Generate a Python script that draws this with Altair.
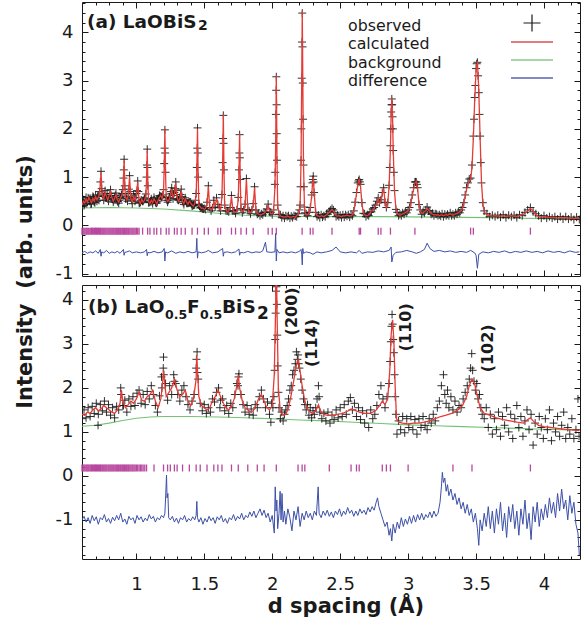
import altair as alt
import pandas as pd

# ---------------- data: panel (a) LaOBiS2 ----------------
A_D = [
    0.60, 0.61, 0.62, 0.63, 0.64, 0.65, 0.66, 0.67, 0.68, 0.69, 0.70, 0.71, 0.72, 0.73,
    0.735, 0.74, 0.745,
    0.75, 0.76, 0.77, 0.78, 0.79, 0.80, 0.81, 0.82, 0.83, 0.84, 0.85, 0.86, 0.87, 0.88, 0.89, 0.90,
    0.905, 0.91, 0.915,
    0.92, 0.93, 0.94, 0.95, 0.96, 0.97, 0.98, 0.99, 1.00, 1.01, 1.02, 1.03, 1.04, 1.05, 1.06, 1.07,
    1.075, 1.08, 1.085,
    1.09, 1.10, 1.11, 1.12, 1.13, 1.14, 1.15, 1.16, 1.17, 1.18, 1.19, 1.20,
    1.205, 1.21, 1.215,
    1.22, 1.23, 1.24, 1.25, 1.26, 1.27, 1.28, 1.29, 1.30, 1.31, 1.32, 1.33, 1.34, 1.35, 1.36, 1.37,
    1.38, 1.39, 1.40, 1.41, 1.42, 1.43, 1.44,
    1.445, 1.45, 1.455,
    1.46, 1.47, 1.48, 1.49, 1.50, 1.51, 1.52, 1.53, 1.54, 1.55, 1.56, 1.57, 1.58, 1.59, 1.60, 1.61,
    1.62, 1.63,
    1.635, 1.64, 1.645,
    1.65, 1.66, 1.67, 1.68, 1.69, 1.70, 1.71, 1.72, 1.73, 1.74, 1.75,
    1.755, 1.76, 1.765,
    1.77, 1.78, 1.79, 1.80, 1.81, 1.82, 1.83, 1.84, 1.85, 1.86, 1.87, 1.88, 1.89, 1.90, 1.91, 1.92,
    1.93, 1.94, 1.95, 1.96, 1.97, 1.98, 1.99, 2.00, 2.01, 2.02,
    2.025, 2.03, 2.035,
    2.04, 2.05, 2.06, 2.07, 2.08, 2.09, 2.10, 2.11, 2.12, 2.13, 2.14, 2.15, 2.16, 2.17, 2.18, 2.19, 2.20,
    2.205, 2.212, 2.217, 2.221, 2.225, 2.23, 2.237,
    2.24, 2.25, 2.26, 2.27, 2.28, 2.29,
    2.296, 2.302, 2.308,
    2.32, 2.33, 2.34, 2.35, 2.36, 2.37, 2.38, 2.39, 2.40, 2.41, 2.42, 2.43, 2.44, 2.45, 2.46, 2.47,
    2.48, 2.49, 2.50, 2.51, 2.52, 2.53, 2.54, 2.55, 2.56, 2.57, 2.58, 2.59, 2.60, 2.61, 2.62,
    2.63, 2.64, 2.65, 2.66, 2.67, 2.68, 2.69, 2.70, 2.71, 2.72, 2.73, 2.74, 2.75, 2.76, 2.77, 2.78,
    2.79, 2.80, 2.81, 2.82, 2.83, 2.84, 2.85,
    2.86, 2.87, 2.875, 2.88, 2.885, 2.89, 2.90, 2.91,
    2.92, 2.93, 2.94, 2.95, 2.96, 2.97, 2.98, 2.99, 3.00, 3.01, 3.02, 3.03, 3.04, 3.05, 3.06, 3.07,
    3.08, 3.09, 3.10, 3.11, 3.12, 3.13, 3.14, 3.15, 3.16, 3.17, 3.18, 3.19, 3.20,
    3.21, 3.22, 3.23, 3.24, 3.25, 3.26, 3.27, 3.28, 3.29, 3.30, 3.31, 3.32, 3.33, 3.34, 3.35, 3.36,
    3.37, 3.38, 3.39, 3.40, 3.41, 3.42, 3.43, 3.44, 3.45, 3.46, 3.47, 3.48, 3.49, 3.50, 3.51, 3.52,
    3.53, 3.54, 3.55, 3.56,
    3.58, 3.60, 3.62, 3.64, 3.66, 3.68, 3.70, 3.72, 3.74, 3.76, 3.78, 3.80, 3.82, 3.84, 3.86, 3.88,
    3.90, 3.92, 3.94, 3.96, 3.98, 4.00, 4.02, 4.04, 4.06, 4.08, 4.10, 4.12, 4.14, 4.16, 4.18, 4.20,
    4.22, 4.24, 4.26,
]
A_CALC = [
    0.42, 0.50, 0.46, 0.55, 0.48, 0.58, 0.52, 0.47, 0.56, 0.50, 0.60, 0.53, 0.58, 0.66,
    0.85, 1.10, 0.80,
    0.62, 0.55, 0.68, 0.60, 0.52, 0.63, 0.70, 0.58, 0.50, 0.56, 0.64, 0.53, 0.48, 0.55, 0.60, 0.70,
    0.95, 1.35, 0.85,
    0.58, 0.52, 0.62, 1.00, 0.55, 0.48, 0.60, 0.52, 0.62, 0.90, 0.50, 0.45, 0.55, 0.48, 0.52, 0.62,
    0.95, 1.55, 0.85,
    0.50, 0.45, 0.52, 0.47, 0.55, 0.50, 0.44, 0.52, 0.58, 0.62, 0.55, 0.70,
    1.20, 2.00, 1.05,
    0.55, 0.50, 0.52, 0.62, 0.75, 0.58, 0.65, 0.88, 0.58, 0.50, 0.55, 0.72, 0.50, 0.45, 0.55, 0.48,
    0.44, 0.50, 0.46, 0.42, 0.40, 0.45, 0.62,
    1.15, 2.00, 1.05,
    0.42, 0.38, 0.35, 0.36, 0.33, 0.35, 0.45, 0.80, 0.35, 0.32, 0.34, 0.50, 0.40, 0.55, 0.45, 0.35,
    0.32, 0.60,
    1.25, 2.30, 1.10,
    0.40, 0.32, 0.28, 0.30, 0.35, 0.60, 0.32, 0.28, 0.27, 0.30, 0.55,
    1.10, 1.90, 0.90,
    0.33, 0.28, 0.30, 0.42, 0.95, 0.35, 0.28, 0.26, 0.30, 0.42, 0.78, 0.30, 0.25, 0.23, 0.22, 0.22,
    0.24, 0.25, 0.28, 0.32, 0.42, 0.30, 0.25, 0.24, 0.30, 0.80,
    1.60, 3.10, 1.40,
    0.40, 0.25, 0.20, 0.18, 0.18, 0.17, 0.18, 0.20, 0.18, 0.17, 0.17, 0.18, 0.18, 0.17, 0.20, 0.22, 0.30,
    0.40, 1.30, 3.00, 4.45, 3.00, 1.30, 0.40,
    0.28, 0.22, 0.22, 0.25, 0.35, 0.60,
    0.85, 1.00, 0.70,
    0.25, 0.20, 0.19, 0.18, 0.20, 0.19, 0.18, 0.20, 0.22, 0.25, 0.27, 0.30, 0.33, 0.30, 0.25, 0.20,
    0.19, 0.20, 0.19, 0.18, 0.20, 0.19, 0.20, 0.21, 0.20, 0.19, 0.20, 0.22, 0.28, 0.45, 0.65,
    0.85, 0.97, 0.80, 0.45, 0.27, 0.22, 0.20, 0.20, 0.22, 0.25, 0.30, 0.32, 0.35, 0.40, 0.48, 0.55,
    0.45, 0.50, 0.65, 0.76, 0.50, 0.35, 0.45,
    0.80, 1.60, 2.30, 2.65, 2.30, 1.60, 0.70, 0.35,
    0.25, 0.22, 0.21, 0.22, 0.24, 0.25, 0.27, 0.28, 0.30, 0.35, 0.45, 0.60, 0.75, 0.88, 0.92, 0.75,
    0.45, 0.30, 0.25, 0.26, 0.28, 0.30, 0.35, 0.32, 0.28, 0.25, 0.23, 0.22, 0.22,
    0.21, 0.22, 0.20, 0.21, 0.22, 0.20, 0.21, 0.22, 0.21, 0.22, 0.24, 0.22, 0.21, 0.22, 0.24, 0.25,
    0.26, 0.28, 0.30, 0.35, 0.45, 0.60, 0.75, 0.85, 0.92, 0.95, 1.20, 1.80, 2.60, 3.20, 3.40, 2.80,
    1.80, 0.90, 0.45, 0.28,
    0.22, 0.20, 0.19, 0.20, 0.19, 0.19, 0.20, 0.18, 0.19, 0.20, 0.19, 0.18, 0.20, 0.22, 0.25, 0.30,
    0.35, 0.30, 0.22, 0.18, 0.17, 0.18, 0.17, 0.16, 0.17, 0.16, 0.15, 0.16, 0.15, 0.16, 0.15, 0.15,
    0.14, 0.15, 0.14,
]
A_OBS = [
    0.40, 0.53, 0.44, 0.58, 0.50, 0.55, 0.56, 0.45, 0.60, 0.48, 0.63, 0.50, 0.61, 0.70,
    0.90, 1.12, 0.76,
    0.65, 0.52, 0.72, 0.57, 0.55, 0.60, 0.74, 0.55, 0.48, 0.59, 0.67, 0.50, 0.46, 0.58, 0.63, 0.74,
    0.98, 1.37, 0.82,
    0.55, 0.55, 0.66, 1.03, 0.58, 0.45, 0.63, 0.50, 0.66, 0.92, 0.47, 0.48, 0.52, 0.50, 0.55, 0.65,
    1.00, 1.58, 0.82,
    0.47, 0.48, 0.55, 0.45, 0.58, 0.48, 0.46, 0.55, 0.62, 0.60, 0.58, 0.74,
    1.28, 1.98, 1.10,
    0.57, 0.48, 0.55, 0.65, 0.78, 0.55, 0.68, 0.90, 0.55, 0.52, 0.58, 0.75, 0.52, 0.43, 0.57, 0.46,
    0.46, 0.48, 0.48, 0.40, 0.42, 0.43, 0.66,
    1.20, 2.02, 1.00,
    0.44, 0.36, 0.37, 0.34, 0.35, 0.33, 0.48, 0.82, 0.37, 0.30, 0.36, 0.52, 0.38, 0.57, 0.43, 0.37,
    0.30, 0.64,
    1.30, 2.28, 1.15,
    0.42, 0.30, 0.30, 0.28, 0.37, 0.62, 0.30, 0.30, 0.25, 0.32, 0.58,
    1.15, 1.88, 0.95,
    0.35, 0.26, 0.32, 0.44, 0.97, 0.33, 0.30, 0.24, 0.32, 0.45, 0.80, 0.32, 0.23, 0.25, 0.20, 0.24,
    0.22, 0.27, 0.26, 0.34, 0.44, 0.28, 0.27, 0.22, 0.32, 0.85,
    1.70, 3.08, 1.35,
    0.42, 0.23, 0.22, 0.16, 0.20, 0.15, 0.20, 0.18, 0.20, 0.15, 0.19, 0.16, 0.20, 0.19, 0.18, 0.24, 0.32,
    0.42, 1.35, 3.05, 4.40, 2.95, 1.25, 0.38,
    0.26, 0.24, 0.20, 0.27, 0.37, 0.63,
    0.88, 1.02, 0.68,
    0.27, 0.18, 0.21, 0.16, 0.22, 0.17, 0.20, 0.18, 0.24, 0.23, 0.29, 0.32, 0.35, 0.32, 0.27, 0.18,
    0.21, 0.18, 0.21, 0.16, 0.22, 0.17, 0.22, 0.19, 0.22, 0.17, 0.22, 0.20, 0.30, 0.48, 0.68,
    0.88, 0.95, 0.85, 0.47, 0.25, 0.24, 0.18, 0.22, 0.20, 0.27, 0.28, 0.34, 0.37, 0.42, 0.50, 0.57,
    0.47, 0.53, 0.68, 0.78, 0.48, 0.37, 0.47,
    0.83, 1.65, 2.35, 2.62, 2.25, 1.55, 0.72, 0.33,
    0.27, 0.20, 0.23, 0.20, 0.26, 0.23, 0.29, 0.26, 0.32, 0.37, 0.47, 0.63, 0.78, 0.90, 0.90, 0.78,
    0.43, 0.32, 0.23, 0.28, 0.26, 0.32, 0.38, 0.30, 0.30, 0.23, 0.25, 0.20, 0.24,
    0.23, 0.20, 0.22, 0.19, 0.24, 0.18, 0.23, 0.20, 0.23, 0.20, 0.26, 0.20, 0.23, 0.20, 0.26, 0.23,
    0.28, 0.26, 0.32, 0.37, 0.47, 0.63, 0.78, 0.88, 0.96, 0.98, 1.25, 1.85, 2.65, 3.25, 3.38, 2.75,
    1.85, 0.88, 0.47, 0.30,
    0.24, 0.18, 0.21, 0.18, 0.21, 0.17, 0.22, 0.16, 0.21, 0.18, 0.21, 0.16, 0.22, 0.20, 0.27, 0.32,
    0.37, 0.28, 0.24, 0.20, 0.15, 0.20, 0.15, 0.18, 0.15, 0.18, 0.13, 0.18, 0.13, 0.18, 0.13, 0.17,
    0.12, 0.17, 0.12,
]
# additional observed points: dense low-d region and points along the peak flanks
A_OBS_X_D = [
    0.605, 0.615, 0.625, 0.635, 0.645, 0.655, 0.665, 0.675, 0.685, 0.695,
    0.705, 0.715, 0.725, 0.755, 0.765, 0.775, 0.785, 0.795, 0.805, 0.815,
    0.825, 0.835, 0.845, 0.855, 0.865, 0.875, 0.885, 0.895, 0.925, 0.935,
    0.945, 0.955, 0.965, 0.975, 0.985, 0.995, 1.005, 1.015, 1.025, 1.035,
    1.045, 1.055, 1.065, 1.095, 1.105, 1.115, 1.125, 1.135, 1.145, 1.155,
    1.165, 1.175, 1.185, 1.195, 1.225, 1.235, 1.245, 1.255, 1.265, 1.275,
    1.285, 1.295, 1.305, 1.315, 1.325, 1.335, 1.345, 1.355, 1.365, 1.375,
    1.385, 1.395, 1.405, 1.415, 1.425, 1.435, 1.465, 1.475, 1.485, 1.495,
    2.022, 2.027, 2.029, 2.032, 2.033, 2.209, 2.214, 2.219, 2.223, 2.227,
    2.233, 2.865, 2.872, 2.878, 2.883, 2.888, 2.895, 3.485, 3.495, 3.505,
    3.515, 3.525, 3.535, 1.638, 1.642, 1.208, 1.212, 1.448, 1.452, 1.758,
    1.762, 1.078, 1.082, 0.908, 2.635, 2.645, 3.055, 3.065, 2.299, 2.305,
]
A_OBS_X = [
    0.48, 0.41, 0.52, 0.45, 0.57, 0.50, 0.44, 0.53, 0.58, 0.47,
    0.56, 0.60, 0.52, 0.60, 0.62, 0.58, 0.66, 0.50, 0.66, 0.62,
    0.54, 0.52, 0.62, 0.58, 0.49, 0.52, 0.57, 0.66, 0.60, 0.50,
    0.75, 0.70, 0.52, 0.55, 0.57, 0.58, 0.72, 0.70, 0.46, 0.52,
    0.50, 0.53, 0.57, 0.48, 0.50, 0.49, 0.52, 0.53, 0.46, 0.49,
    0.56, 0.60, 0.59, 0.63, 0.52, 0.52, 0.58, 0.70, 0.66, 0.62,
    0.76, 0.72, 0.53, 0.54, 0.64, 0.60, 0.47, 0.50, 0.52, 0.46,
    0.47, 0.48, 0.44, 0.41, 0.42, 0.52, 0.40, 0.37, 0.35, 0.34,
    1.10, 2.30, 2.80, 2.50, 1.90, 0.80, 2.00, 3.80, 3.70, 2.20,
    0.80, 1.20, 2.00, 2.50, 2.50, 2.00, 1.10, 2.20, 2.90, 3.35,
    3.10, 2.30, 1.30, 1.80, 1.70, 1.60, 1.50, 1.60, 1.50, 1.50,
    1.40, 1.25, 1.20, 1.15, 0.92, 0.90, 0.90, 0.85, 0.95, 0.90,
]
A_BG_D = [0.60, 0.80, 1.00, 1.20, 1.40, 1.60, 1.80, 2.00, 2.40, 2.80, 3.20, 3.60, 4.00, 4.26]
A_BG = [0.36, 0.37, 0.36, 0.34, 0.30, 0.25, 0.21, 0.19, 0.18, 0.18, 0.17, 0.16, 0.14, 0.13]
A_DIFF_D = [
    0.60, 0.62, 0.64, 0.66, 0.68, 0.70, 0.72, 0.735, 0.74, 0.745,
    0.76, 0.78, 0.80, 0.82, 0.84, 0.86, 0.88, 0.905, 0.91, 0.915,
    0.93, 0.95, 0.97, 1.00, 1.03, 1.06, 1.075, 1.08, 1.085, 1.10,
    1.13, 1.16, 1.19, 1.205, 1.21, 1.215, 1.23, 1.26, 1.29, 1.32,
    1.35, 1.38, 1.41, 1.44, 1.445, 1.45, 1.455, 1.48, 1.51, 1.53,
    1.56, 1.60, 1.635, 1.64, 1.645, 1.67, 1.70, 1.73, 1.755, 1.76,
    1.765, 1.79, 1.82, 1.85, 1.88, 1.91, 1.93, 1.95, 1.96, 1.99,
    2.02, 2.025, 2.03, 2.035, 2.05, 2.08, 2.11, 2.14, 2.17, 2.20,
    2.212, 2.217, 2.221, 2.225, 2.23, 2.25, 2.28, 2.30, 2.33, 2.36,
    2.40, 2.44, 2.47, 2.50, 2.54, 2.58, 2.62, 2.64, 2.66, 2.70,
    2.74, 2.78, 2.82, 2.86, 2.875, 2.88, 2.89, 2.91, 2.95, 2.99,
    3.03, 3.06, 3.09, 3.12, 3.14, 3.16, 3.19, 3.23, 3.27, 3.31,
    3.35, 3.39, 3.43, 3.46, 3.49, 3.50, 3.51, 3.52, 3.55, 3.59,
    3.63, 3.67, 3.71, 3.75, 3.79, 3.83, 3.87, 3.91, 3.95, 3.99,
    4.03, 4.07, 4.11, 4.15, 4.19, 4.23, 4.26,
]
A_DIFF = [
    -0.57, -0.54, -0.58, -0.55, -0.57, -0.53, -0.58, -0.50, -0.64, -0.55,
    -0.57, -0.52, -0.58, -0.55, -0.57, -0.54, -0.58, -0.50, -0.62, -0.56,
    -0.55, -0.53, -0.57, -0.55, -0.57, -0.55, -0.50, -0.63, -0.56, -0.57,
    -0.54, -0.57, -0.55, -0.48, -0.74, -0.55, -0.57, -0.53, -0.58, -0.55,
    -0.57, -0.54, -0.57, -0.55, -0.27, -0.68, -0.55, -0.57, -0.55, -0.52,
    -0.57, -0.55, -0.48, -0.64, -0.56, -0.55, -0.57, -0.55, -0.49, -0.62,
    -0.56, -0.57, -0.54, -0.57, -0.55, -0.56, -0.53, -0.35, -0.55, -0.56,
    -0.55, -0.17, -0.74, -0.50, -0.57, -0.55, -0.57, -0.55, -0.57, -0.54,
    -0.50, -0.60, -0.82, -0.48, -0.58, -0.55, -0.57, -0.60, -0.55, -0.57,
    -0.55, -0.52, -0.45, -0.55, -0.57, -0.55, -0.57, -0.52, -0.58, -0.55,
    -0.56, -0.53, -0.55, -0.52, -0.45, -0.76, -0.62, -0.56, -0.55, -0.52,
    -0.55, -0.58, -0.55, -0.50, -0.37, -0.48, -0.54, -0.52, -0.55, -0.53,
    -0.56, -0.54, -0.56, -0.52, -0.57, -0.62, -0.89, -0.60, -0.55, -0.57,
    -0.54, -0.56, -0.53, -0.57, -0.54, -0.56, -0.53, -0.56, -0.54, -0.57,
    -0.53, -0.56, -0.54, -0.57, -0.53, -0.56, -0.55,
]
REFL_A = [
    0.600, 0.608, 0.615, 0.622, 0.630, 0.636, 0.643, 0.650, 0.658, 0.665, 0.671, 0.678, 0.686,
    0.693, 0.700, 0.706, 0.713, 0.721, 0.728, 0.735, 0.741, 0.749, 0.756, 0.763, 0.770, 0.777,
    0.784, 0.792, 0.799, 0.806, 0.813, 0.820, 0.827, 0.834, 0.842, 0.849, 0.856, 0.863, 0.870,
    0.878, 0.885, 0.893, 0.900, 0.907, 0.914, 0.922, 0.929, 0.937, 0.944, 0.952, 0.960, 0.968,
    0.975, 0.983, 0.991, 1.000, 1.010, 1.020, 1.046, 1.083, 1.100, 1.130, 1.150, 1.180, 1.220,
    1.240, 1.280, 1.300, 1.330, 1.360, 1.410, 1.450, 1.500, 1.530, 1.600, 1.620, 1.700, 1.730,
    1.770, 1.810, 1.860, 1.970, 2.000, 2.030, 2.220, 2.280, 2.300, 2.440, 2.640, 2.650, 2.780,
    2.800, 2.870, 3.050, 3.460, 3.480, 3.900,
]

# ---------------- data: panel (b) LaO0.5F0.5BiS2 ----------------
B_D = [
    0.60, 0.62, 0.64, 0.66, 0.68, 0.70, 0.72, 0.74, 0.76, 0.78,
    0.80, 0.82, 0.84, 0.86, 0.88, 0.89, 0.90, 0.92, 0.94, 0.96,
    0.98, 1.00, 1.02, 1.04, 1.06, 1.08, 1.10, 1.12, 1.14, 1.16,
    1.18, 1.19, 1.20, 1.21, 1.22, 1.24, 1.26, 1.28, 1.30, 1.32,
    1.34, 1.36, 1.38, 1.40, 1.42, 1.44, 1.445, 1.45, 1.46, 1.48,
    1.50, 1.52, 1.54, 1.56, 1.58, 1.60, 1.62, 1.64, 1.66, 1.68,
    1.70, 1.72, 1.74, 1.75, 1.76, 1.78, 1.80, 1.82, 1.84, 1.86,
    1.88, 1.90, 1.92, 1.94, 1.96, 1.98, 2.00, 2.015, 2.025, 2.03,
    2.035, 2.045, 2.06, 2.08, 2.10, 2.12, 2.14, 2.16, 2.18, 2.19,
    2.20, 2.22, 2.24, 2.26, 2.28, 2.30, 2.32, 2.34, 2.36, 2.38,
    2.40, 2.44, 2.48, 2.52, 2.56, 2.58, 2.60, 2.64, 2.68, 2.72,
    2.76, 2.79, 2.81, 2.83, 2.85, 2.865, 2.875, 2.885, 2.895, 2.905,
    2.915, 2.93, 2.96, 3.00, 3.04, 3.08, 3.12, 3.16, 3.20, 3.24,
    3.28, 3.32, 3.36, 3.40, 3.43, 3.45, 3.47, 3.49, 3.51, 3.53,
    3.56, 3.60, 3.65, 3.70, 3.75, 3.80, 3.85, 3.88, 3.90, 3.92,
    3.96, 4.00, 4.05, 4.10, 4.15, 4.20, 4.26,
]
B_CALC = [
    1.40, 1.38, 1.45, 1.42, 1.50, 1.55, 1.48, 1.52, 1.60, 1.55,
    1.50, 1.45, 1.42, 1.50, 1.65, 1.95, 1.70, 1.55, 1.62, 1.70,
    1.65, 1.75, 1.90, 1.72, 1.70, 1.80, 1.85, 1.95, 1.70, 1.55,
    1.75, 2.00, 2.40, 2.05, 1.80, 1.90, 2.00, 2.20, 1.95, 1.80,
    1.85, 1.95, 1.70, 1.60, 1.75, 2.20, 2.75, 2.40, 1.80, 1.60,
    1.55, 1.50, 1.55, 1.70, 1.80, 1.95, 1.80, 1.65, 1.55, 1.50,
    1.58, 1.75, 2.05, 2.30, 2.00, 1.70, 1.55, 1.50, 1.45, 1.48,
    1.60, 1.75, 1.85, 1.70, 1.55, 1.50, 1.60, 2.30, 3.80, 5.20,
    3.80, 2.00, 1.45, 1.38, 1.40, 1.55, 1.85, 2.20, 2.55, 2.64,
    2.50, 2.05, 1.70, 1.52, 1.45, 1.42, 1.48, 1.62, 1.45, 1.40,
    1.38, 1.37, 1.40, 1.42, 1.48, 1.52, 1.50, 1.45, 1.42, 1.42,
    1.48, 1.60, 1.70, 1.62, 1.75, 2.40, 3.20, 3.55, 3.10, 2.00,
    1.30, 1.22, 1.20, 1.18, 1.20, 1.20, 1.22, 1.25, 1.30, 1.35,
    1.38, 1.42, 1.48, 1.60, 1.80, 2.05, 2.20, 2.10, 1.80, 1.55,
    1.42, 1.38, 1.32, 1.28, 1.25, 1.22, 1.20, 1.28, 1.32, 1.25,
    1.15, 1.12, 1.10, 1.08, 1.06, 1.05, 1.03,
]
B_OBS_D = [
    0.600, 0.615, 0.630, 0.645, 0.660, 0.675, 0.690, 0.705, 0.720, 0.735,
    0.750, 0.765, 0.780, 0.795, 0.810, 0.825, 0.840, 0.855, 0.870, 0.885,
    0.900, 0.915, 0.930, 0.945, 0.960, 0.975, 0.990, 1.005, 1.020, 1.035,
    1.050, 1.065, 1.080, 1.095, 1.110, 1.125, 1.140, 1.155, 1.170, 1.185,
    1.200, 1.215, 1.230, 1.245, 1.260, 1.275, 1.290, 1.305, 1.320, 1.335,
    1.350, 1.365, 1.380, 1.395, 1.410, 1.425, 1.440, 1.455, 1.470, 1.485,
    1.500, 1.515, 1.530, 1.545, 1.560, 1.575, 1.590, 1.605, 1.620, 1.635,
    1.650, 1.665, 1.680, 1.695, 1.710, 1.725, 1.740, 1.755, 1.770, 1.785,
    1.800, 1.815, 1.830, 1.845, 1.860, 1.875, 1.890, 1.905, 1.920, 1.935,
    1.950, 1.965, 1.980, 1.995,
    1.442, 1.447, 1.450, 1.198, 1.202, 0.888, 1.752, 1.748, 1.188, 0.718,
    1.990, 1.615, 1.280, 0.905,
    2.005, 2.012, 2.018, 2.022, 2.025, 2.028, 2.031, 2.034, 2.037, 2.040,
    2.045, 2.050, 2.060, 2.070, 2.080, 2.090, 2.100, 2.110, 2.120, 2.130,
    2.140, 2.150, 2.160, 2.170, 2.178, 2.185, 2.190, 2.195, 2.200, 2.210,
    2.220, 2.230, 2.240, 2.250, 2.260, 2.270, 2.280, 2.290, 2.300, 2.310,
    2.320, 2.330, 2.340, 2.345, 2.350,
    2.365, 2.380, 2.395, 2.410, 2.425, 2.440, 2.455, 2.470, 2.485, 2.500,
    2.515, 2.530, 2.545, 2.560, 2.575, 2.590, 2.605, 2.620, 2.635, 2.650,
    2.665, 2.680, 2.695, 2.710, 2.725, 2.740, 2.755, 2.770, 2.785, 2.800,
    2.815, 2.830, 2.845, 2.860, 2.868, 2.873, 2.878, 2.882, 2.886, 2.890,
    2.895, 2.900, 2.905, 2.910, 2.918, 2.930, 2.945, 2.960, 2.975, 2.990,
    3.005, 3.020, 3.035, 3.050, 3.065, 3.080, 3.095, 3.110, 3.125, 3.140,
    3.155, 3.170, 3.185, 3.200, 3.215, 3.230, 3.245, 3.260, 3.270, 3.280,
    3.290, 3.300, 3.315, 3.330, 3.345, 3.360, 3.375, 3.390, 3.405, 3.420,
    3.435, 3.450, 3.460, 3.468, 3.475, 3.485, 3.495, 3.505, 3.515, 3.525,
    3.535, 3.545, 3.560,
    3.575, 3.590, 3.605, 3.620, 3.635, 3.650, 3.665, 3.680, 3.695, 3.710,
    3.725, 3.740, 3.755, 3.770, 3.785, 3.800, 3.815, 3.830, 3.845, 3.860,
    3.875, 3.890, 3.905, 3.920, 3.935, 3.950, 3.965, 3.980, 3.995, 4.010,
    4.025, 4.040, 4.055, 4.070, 4.085, 4.100, 4.115, 4.130, 4.145, 4.160,
    4.175, 4.190, 4.205, 4.220, 4.235, 4.250, 4.258,
]
B_OBS = [
    1.30, 1.50, 1.32, 1.55, 1.35, 1.58, 1.42, 1.65, 1.40, 1.62,
    1.48, 1.70, 1.45, 1.62, 1.38, 1.55, 1.32, 1.58, 1.50, 2.00,
    1.60, 1.72, 1.45, 1.75, 1.58, 1.80, 1.60, 1.88, 1.95, 1.65,
    1.85, 1.62, 1.92, 1.75, 2.05, 1.85, 1.60, 1.45, 1.82, 2.25,
    2.70, 2.10, 1.72, 2.05, 1.85, 2.30, 2.10, 1.85, 1.70, 1.95,
    2.05, 1.80, 1.62, 1.50, 1.70, 1.85, 2.45, 2.20, 1.65, 1.48,
    1.62, 1.42, 1.55, 1.45, 1.75, 1.68, 1.90, 2.00, 1.72, 1.75,
    1.48, 1.60, 1.42, 1.65, 1.55, 1.85, 2.10, 2.32, 1.85, 1.62,
    1.45, 1.60, 1.40, 1.52, 1.38, 1.62, 1.55, 1.80, 1.95, 1.75,
    1.55, 1.68, 1.40, 1.65,
    2.65, 2.82, 2.35, 2.45, 2.30, 1.85, 2.25, 2.05, 2.00, 1.15,
    1.22, 1.55, 2.15, 1.60,
    1.55, 1.80, 2.40, 3.10, 3.70, 4.20, 4.30, 3.90, 3.20, 2.50,
    1.90, 1.55, 1.30, 1.45, 1.25, 1.40, 1.50, 1.60, 1.75, 1.95,
    2.05, 2.30, 2.40, 2.55, 2.82, 2.65, 2.75, 2.55, 2.45, 2.20,
    1.95, 1.75, 1.62, 1.50, 1.62, 1.38, 1.55, 1.32, 1.48, 1.40,
    1.55, 1.75, 2.05, 1.80, 1.45,
    1.30, 1.42, 1.25, 1.45, 1.20, 1.38, 1.28, 1.50, 1.32, 1.55,
    1.35, 1.62, 1.40, 1.70, 1.78, 1.50, 1.65, 1.35, 1.55, 1.28,
    1.48, 1.20, 1.42, 1.10, 1.50, 1.30, 1.40, 1.60, 1.85, 2.05,
    1.75, 1.55, 1.80, 2.10, 2.60, 3.05, 3.40, 3.67, 3.45, 3.10,
    2.80, 2.30, 1.80, 1.40, 0.95, 1.25, 1.05, 1.35, 0.98, 1.30,
    1.10, 1.35, 1.05, 1.28, 0.95, 1.30, 1.10, 1.35, 1.15, 1.05,
    1.30, 1.20, 1.40, 1.25, 1.55, 1.70, 2.05, 2.30, 1.85, 1.65,
    1.95, 1.55, 1.80, 1.50, 1.70, 1.45, 1.60, 1.55, 1.75, 1.90,
    2.05, 2.20, 2.45, 2.78, 2.40, 2.15, 1.95, 2.10, 1.75, 1.85,
    1.55, 1.40, 1.30,
    1.55, 1.10, 1.40, 0.95, 1.30, 1.05, 1.45, 0.90, 1.35, 1.15,
    1.55, 1.00, 1.40, 0.85, 1.30, 1.60, 1.10, 1.35, 0.90, 1.25,
    1.50, 1.05, 1.40, 0.70, 1.20, 0.95, 1.35, 1.10, 0.85, 1.30,
    1.05, 1.50, 0.80, 1.20, 1.00, 1.35, 0.90, 1.15, 1.45, 0.85,
    1.10, 0.95, 1.30, 0.85, 1.05, 1.75, 0.90,
]
B_BG_D = [0.60, 0.70, 0.80, 0.90, 1.00, 1.10, 1.20, 1.40, 1.60, 1.80, 2.00,
          2.20, 2.40, 2.60, 2.80, 3.00, 3.20, 3.40, 3.60, 3.80, 4.00, 4.26]
B_BG = [1.13, 1.15, 1.20, 1.26, 1.31, 1.34, 1.35, 1.35, 1.34, 1.32, 1.30,
        1.27, 1.25, 1.22, 1.19, 1.16, 1.14, 1.12, 1.10, 1.08, 1.06, 1.04]
B_DIFF_D = [
    0.60, 0.615, 0.63, 0.645, 0.66, 0.675, 0.69, 0.705, 0.72, 0.735,
    0.75, 0.765, 0.78, 0.795, 0.81, 0.825, 0.84, 0.855, 0.87, 0.885,
    0.90, 0.915, 0.93, 0.945, 0.96, 0.975, 0.99, 1.005, 1.02, 1.035,
    1.05, 1.065, 1.08, 1.095, 1.11, 1.125, 1.14, 1.155, 1.17, 1.185,
    1.20, 1.21, 1.218, 1.222, 1.226, 1.232, 1.238, 1.25, 1.265, 1.28,
    1.295, 1.31, 1.325, 1.34, 1.355, 1.37, 1.385, 1.40, 1.415, 1.43,
    1.44, 1.445, 1.45, 1.46, 1.475, 1.49, 1.505, 1.52, 1.535, 1.55,
    1.565, 1.58, 1.595, 1.61, 1.625, 1.64, 1.655, 1.67, 1.685, 1.70,
    1.715, 1.73, 1.745, 1.76, 1.775, 1.79, 1.805, 1.82, 1.835, 1.85,
    1.865, 1.88, 1.895, 1.91, 1.925, 1.94, 1.955, 1.97, 1.985, 2.00,
    2.015, 2.022, 2.028, 2.034, 2.04, 2.05, 2.058, 2.065, 2.072, 2.08,
    2.09, 2.10, 2.115, 2.13, 2.145, 2.16, 2.175, 2.19, 2.205, 2.22,
    2.235, 2.25, 2.265, 2.28, 2.295, 2.31, 2.325, 2.338, 2.345, 2.36,
    2.375, 2.39, 2.405, 2.42, 2.435, 2.45, 2.465, 2.48, 2.495, 2.51,
    2.525, 2.54, 2.555, 2.57, 2.585, 2.60, 2.615, 2.63, 2.645, 2.66,
    2.675, 2.69, 2.705, 2.72, 2.735, 2.75, 2.765, 2.775, 2.785, 2.80,
    2.815, 2.83, 2.845, 2.86, 2.87, 2.88, 2.89, 2.905, 2.92, 2.935,
    2.95, 2.965, 2.98, 2.995, 3.01, 3.025, 3.04, 3.055, 3.07, 3.085,
    3.10, 3.115, 3.13, 3.145, 3.16, 3.175, 3.19, 3.205, 3.22, 3.235,
    3.245, 3.252, 3.26, 3.27, 3.28, 3.29, 3.30, 3.315, 3.33, 3.345,
    3.36, 3.375, 3.39, 3.405, 3.42, 3.435, 3.45, 3.465, 3.48, 3.495,
    3.51, 3.52, 3.53, 3.545, 3.56, 3.575, 3.59, 3.605, 3.62, 3.635,
    3.65, 3.665, 3.68, 3.695, 3.71, 3.725, 3.74, 3.755, 3.77, 3.785,
    3.80, 3.815, 3.83, 3.845, 3.86, 3.875, 3.89, 3.905, 3.92, 3.935,
    3.95, 3.965, 3.98, 3.995, 4.01, 4.025, 4.04, 4.055, 4.07, 4.085,
    4.10, 4.115, 4.13, 4.145, 4.16, 4.175, 4.19, 4.205, 4.22, 4.235,
    4.25, 4.26,
]
B_DIFF = [
    -1.00, -0.92, -1.05, -0.95, -1.08, -0.90, -1.02, -0.93, -1.10, -0.95,
    -1.00, -0.88, -1.05, -0.97, -1.08, -0.94, -1.02, -0.90, -1.00, -0.85,
    -1.05, -0.98, -1.10, -0.92, -1.00, -0.95, -1.08, -0.90, -1.00, -0.93,
    -1.05, -0.96, -1.02, -0.88, -0.98, -0.92, -1.05, -0.95, -1.00, -0.90,
    -0.95, -0.85, -0.30, 0.02, -0.50, -0.40, -0.95, -1.00, -0.92, -1.05,
    -0.96, -1.08, -0.95, -1.00, -0.90, -1.05, -0.97, -1.02, -0.93, -1.00,
    -0.90, -0.58, -0.95, -1.05, -0.95, -1.10, -0.97, -1.05, -0.92, -1.02,
    -0.95, -1.08, -0.93, -1.00, -0.90, -1.05, -0.97, -1.08, -0.95, -1.00,
    -0.88, -1.02, -0.92, -0.98, -0.85, -1.00, -0.90, -0.95, -0.82, -0.92,
    -0.80, -0.95, -0.85, -0.75, -0.90, -0.78, -0.95, -0.85, -1.05, -0.90,
    -1.30, -0.25, -0.80, -0.55, -1.20, -0.85, -0.35, -1.00, -0.40, -1.05,
    -0.80, -1.10, -0.75, -0.95, -1.25, -0.80, -1.00, -0.70, -1.15, -0.85,
    -1.00, -0.80, -0.95, -0.85, -1.00, -0.80, -0.90, -0.25, -0.85, -0.95,
    -0.80, -0.90, -0.78, -0.92, -0.82, -0.95, -0.80, -0.88, -0.75, -0.92,
    -0.80, -0.88, -0.72, -0.85, -0.78, -0.92, -0.80, -0.90, -0.75, -0.85,
    -0.78, -0.88, -0.72, -0.82, -0.70, -0.78, -0.60, -0.50, -0.70, -0.85,
    -1.00, -1.15, -1.05, -1.35, -1.20, -1.48, -1.10, -1.30, -1.05, -1.20,
    -0.95, -1.15, -0.98, -1.10, -0.92, -1.08, -0.90, -1.05, -0.88, -1.00,
    -0.85, -1.00, -0.88, -0.95, -0.82, -0.95, -0.80, -0.92, -0.85, -0.60,
    -0.25, 0.08, -0.15, -0.05, -0.35, -0.20, -0.45, -0.30, -0.55, -0.40,
    -0.65, -0.50, -0.75, -0.60, -0.85, -0.65, -0.90, -0.75, -1.05, -0.85,
    -1.20, -1.58, -1.00, -1.25, -0.85, -1.15, -0.70, -1.20, -0.80, -1.30,
    -0.75, -1.10, -0.60, -1.25, -0.85, -1.40, -0.70, -1.05, -0.65, -1.20,
    -0.80, -1.35, -0.75, -1.10, -0.55, -1.20, -0.85, -1.45, -0.70, -1.05,
    -0.60, -1.15, -0.75, -1.00, -0.65, -0.95, -0.50, -0.85, -0.60, -0.95,
    -0.40, -0.80, -0.30, -0.75, -0.55, -1.00, -0.45, -0.85, -0.60, -1.10,
    -1.30, -1.80,
]
REFL_B = [
    0.600, 0.608, 0.615, 0.622, 0.630, 0.636, 0.643, 0.650, 0.658, 0.665, 0.671, 0.678, 0.686,
    0.693, 0.700, 0.706, 0.713, 0.721, 0.728, 0.735, 0.741, 0.749, 0.756, 0.763, 0.770, 0.777,
    0.784, 0.792, 0.799, 0.806, 0.813, 0.820, 0.827, 0.834, 0.842, 0.849, 0.856, 0.863, 0.870,
    0.878, 0.885, 0.893, 0.900, 0.907, 0.914, 0.922, 0.929, 0.937, 0.944, 0.952, 0.960, 0.968,
    0.975, 0.983, 0.991, 1.000, 1.010, 1.020, 1.030, 1.040, 1.050, 1.062, 1.075,
    1.13, 1.20, 1.23, 1.25, 1.28, 1.30, 1.34, 1.39, 1.44, 1.47, 1.52, 1.57, 1.60, 1.63, 1.70,
    1.75, 1.82, 1.89, 1.94, 2.03, 2.19, 2.22, 2.24, 2.42, 2.58, 2.62, 2.64, 2.81, 2.84, 2.87,
    3.00, 3.33, 3.47, 3.90,
]
ANN_TEXT = ["(200)", "(114)", "(110)", "(102)"]
ANN_D = [2.144, 2.290, 2.985, 3.590]
ANN_I = [3.74, 3.02, 3.38, 2.90]

LEGEND_LABELS = ["observed", "calculated", "background", "difference"]
X_MAJOR = [1, 1.5, 2, 2.5, 3, 3.5, 4]
X_MINOR = [0.7, 0.8, 0.9, 1.1, 1.2, 1.3, 1.4, 1.6, 1.7, 1.8, 1.9, 2.1, 2.2, 2.3, 2.4,
           2.6, 2.7, 2.8, 2.9, 3.1, 3.2, 3.3, 3.4, 3.6, 3.7, 3.8, 3.9, 4.1, 4.2]
Y_MAJOR = [-1, 0, 1, 2, 3, 4]
YA_MINOR = [-0.8, -0.6, -0.4, -0.2, 0.2, 0.4, 0.6, 0.8, 1.2, 1.4, 1.6, 1.8, 2.2, 2.4, 2.6,
            2.8, 3.2, 3.4, 3.6, 3.8, 4.2, 4.4, 4.6]
YB_MINOR = [-1.8, -1.6, -1.4, -1.2, -0.8, -0.6, -0.4, -0.2, 0.2, 0.4, 0.6, 0.8, 1.2, 1.4,
            1.6, 1.8, 2.2, 2.4, 2.6, 2.8, 3.2, 3.4, 3.6, 3.8, 4.2]

# ---------------- layout / style ----------------
W, H = 498, 274
X_DOM = [0.6, 4.265]
A_YDOM = [-1.05, 4.63]
B_YDOM = [-1.89, 4.34]
REFL_Y_A = -0.12
REFL_Y_B = 0.18
FONT = "DejaVu Sans"
INK = "#1a1a1a"
RED, GREEN, BLUE, MAG = "#e63b35", "#74c274", "#3c50a8", "#b8479f"
LEG_RED, LEG_GREEN, LEG_BLUE = "#d9505a", "#8cc88c", "#5a64b4"
CROSS = "M-1,0L1,0M0,-1L0,1"
ONE = pd.DataFrame({"k": [0]})
AX_DF = pd.DataFrame({"d": [1.0], "v": [0.0]})


def xsc():
    return alt.Scale(domain=X_DOM, nice=False, zero=False)


def ysc(dom):
    return alt.Scale(domain=dom, nice=False, zero=False)


def xy(ydom):
    return dict(x=alt.X("d:Q", scale=xsc(), axis=None),
                y=alt.Y("v:Q", scale=ysc(ydom), axis=None))


def data_layers(ydom, calc_df, obs_df, bg_df, diff_df, refl_df, refl_y):
    bg = alt.Chart(bg_df).mark_line(color=GREEN, strokeWidth=1.1, clip=True).encode(**xy(ydom))
    obs = alt.Chart(obs_df).mark_point(shape=CROSS, size=64, filled=False, color=INK,
                                       strokeWidth=0.9, opacity=1, clip=True).encode(**xy(ydom))
    calc = alt.Chart(calc_df).mark_line(color=RED, strokeWidth=1.3, clip=True).encode(**xy(ydom))
    diff = alt.Chart(diff_df).mark_line(color=BLUE, strokeWidth=1.0, clip=True).encode(**xy(ydom))
    refl = alt.Chart(refl_df).mark_tick(orient="vertical", color=MAG, thickness=1.3, size=7,
                                        opacity=1).encode(
        x=alt.X("d:Q", scale=xsc(), axis=None),
        y=alt.YDatum(refl_y, scale=ysc(ydom), axis=None))
    return [bg, obs, calc, refl, diff]


def ax_layer(ydom, xaxis, yaxis):
    return alt.Chart(AX_DF).mark_point(opacity=0).encode(
        x=alt.X("d:Q", scale=xsc(), axis=xaxis),
        y=alt.Y("v:Q", scale=ysc(ydom), axis=yaxis))


def tick_axis(orient, values, size):
    return alt.Axis(orient=orient, values=values, labels=False, domain=False, grid=False,
                    ticks=True, tickSize={"expr": str(-size)}, tickColor=INK, tickWidth=1,
                    title=None)


def axis_layers(ydom, ymin_vals, xlabels):
    xlab = None
    if xlabels:
        xlab = alt.Axis(orient="bottom", values=X_MAJOR, ticks=False, tickSize=0, domain=False,
                        grid=False, labelPadding=16, labelFlush=False, format="~g", title=None)
    ylab = alt.Axis(orient="left", values=Y_MAJOR, ticks=False, tickSize=0, domain=False,
                    grid=False, labelPadding=9, title=None,
                    labelExpr="datum.value < 0 ? '-' + abs(datum.value) : datum.label")
    return [
        ax_layer(ydom, xlab, ylab),
        ax_layer(ydom, tick_axis("bottom", X_MAJOR, 6), tick_axis("left", Y_MAJOR, 6)),
        ax_layer(ydom, tick_axis("bottom", X_MINOR, 3), tick_axis("left", ymin_vals, 3)),
        ax_layer(ydom, tick_axis("top", X_MAJOR, 6), tick_axis("right", Y_MAJOR, 6)),
        ax_layer(ydom, tick_axis("top", X_MINOR, 3), tick_axis("right", ymin_vals, 3)),
    ]


def txt(s, x, y, size, bold=False, align="left", angle=None, baseline="alphabetic"):
    kw = dict(text=s, font=FONT, fontSize=size, fontWeight="bold" if bold else "normal",
              align=align, baseline=baseline, color=INK)
    if angle is not None:
        kw["angle"] = angle
    return alt.Chart(ONE).mark_text(**kw).encode(x=alt.value(x), y=alt.value(y))


def hline(color, x0, x1, y):
    return alt.Chart(ONE).mark_rule(color=color, strokeWidth=1.6).encode(
        x=alt.value(x0), x2=alt.value(x1), y=alt.value(y))


# ---------------- dataframes ----------------
a_calc = pd.DataFrame({"d": A_D, "v": A_CALC})
a_obs = pd.DataFrame({"d": A_D + A_OBS_X_D, "v": A_OBS + A_OBS_X})
a_bg = pd.DataFrame({"d": A_BG_D, "v": A_BG})
a_diff = pd.DataFrame({"d": A_DIFF_D, "v": A_DIFF})
a_refl = pd.DataFrame({"d": REFL_A})
b_calc = pd.DataFrame({"d": B_D, "v": B_CALC})
b_obs = pd.DataFrame({"d": B_OBS_D, "v": B_OBS})
b_bg = pd.DataFrame({"d": B_BG_D, "v": B_BG})
b_diff = pd.DataFrame({"d": B_DIFF_D, "v": B_DIFF})
b_refl = pd.DataFrame({"d": REFL_B})
ann_df = pd.DataFrame({"d": ANN_D, "v": ANN_I, "t": ANN_TEXT})

# ---------------- panel (a) ----------------
LEG_FS = 15.8
legend_a = [
    txt(LEGEND_LABELS[0], 266, 28.5, LEG_FS),
    txt(LEGEND_LABELS[1], 266, 47, LEG_FS),
    txt(LEGEND_LABELS[2], 266, 65.5, LEG_FS),
    txt(LEGEND_LABELS[3], 266, 84, LEG_FS),
    alt.Chart(ONE).mark_point(shape=CROSS, size=290, filled=False, color=INK, strokeWidth=1.2,
                              opacity=1).encode(x=alt.value(450), y=alt.value(21)),
    hline(LEG_RED, 429, 471, 40),
    hline(LEG_GREEN, 429, 471, 58),
    hline(LEG_BLUE, 429, 471, 76),
]
title_a = [
    txt("(a) LaOBiS", 5, 26, 18.5, bold=True),
    txt("2", 116, 28, 14, bold=True),
]
ytitle = txt("Intensity\u00a0 (arb. units)", -50, 280, 21, bold=True, align="center", angle=270)

panel_a = alt.layer(
    *data_layers(A_YDOM, a_calc, a_obs, a_bg, a_diff, a_refl, REFL_Y_A),
    *legend_a, *title_a, ytitle,
    *axis_layers(A_YDOM, YA_MINOR, False),
).resolve_axis(x="independent", y="independent").properties(width=W, height=H)

# ---------------- panel (b) ----------------
title_b = [
    txt("(b) LaO", 6, 28, 18.5, bold=True),
    txt("0.5", 83, 34, 12.5, bold=True),
    txt("F", 105, 28, 18.5, bold=True),
    txt("0.5", 118, 34, 12.5, bold=True),
    txt("BiS", 140, 28, 18.5, bold=True),
    txt("2", 175, 34, 17, bold=True),
]
ann_b = alt.Chart(ann_df).mark_text(angle=270, font=FONT, fontSize=16, fontWeight="bold",
                                    align="center", baseline="middle", color=INK).encode(
    x=alt.X("d:Q", scale=xsc(), axis=None),
    y=alt.Y("v:Q", scale=ysc(B_YDOM), axis=None),
    text="t:N")
xtitle = txt("d spacing (\u00c5)", 264, 328, 21, bold=True, align="center")

panel_b = alt.layer(
    *data_layers(B_YDOM, b_calc, b_obs, b_bg, b_diff, b_refl, REFL_Y_B),
    ann_b, *title_b, xtitle,
    *axis_layers(B_YDOM, YB_MINOR, True),
).resolve_axis(x="independent", y="independent").properties(width=W, height=H)

chart = alt.vconcat(panel_a, panel_b, spacing=9).properties(
    bounds="flush",
    padding={"left": 14, "top": 1, "right": 5, "bottom": 5},
).configure_view(stroke=INK, strokeWidth=1).configure_axis(
    labelFont=FONT, labelFontSize=18, labelColor=INK)

chart.save("out.html", embed_options={"renderer": "svg", "actions": False})
